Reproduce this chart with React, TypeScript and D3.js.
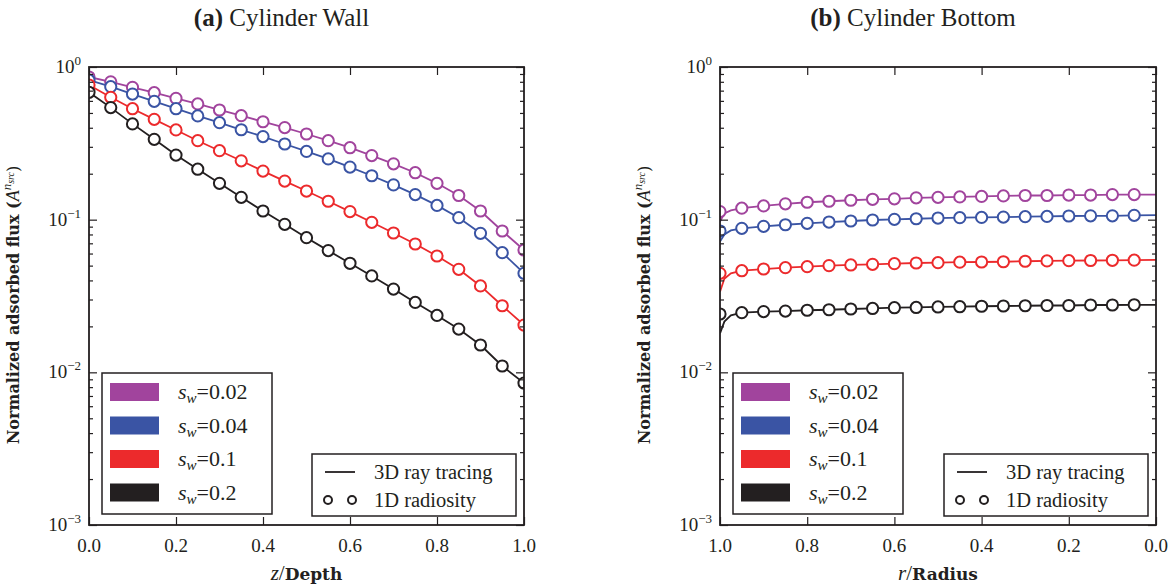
import React, { useEffect, useRef } from "react";
import * as d3 from "d3";

const WIDTH = 1173;
const HEIGHT = 588;

const swLabels = ["0.02", "0.04", "0.1", "0.2"];
const swColors = ["#a1449d", "#3a54a4", "#ec2a2c", "#231f20"];

const yExponents = [0, -1, -2, -3];
const wallTicks = [0, 0.2, 0.4, 0.6, 0.8, 1.0];
const bottomTicks = [1.0, 0.8, 0.6, 0.4, 0.2, 0.0];

// (a) cylinder wall, z/Depth -- lines and circles share the same points
const wallZ = [0, 0.05, 0.1, 0.15, 0.2, 0.25, 0.3, 0.35, 0.4, 0.45, 0.5, 0.55, 0.6, 0.65, 0.7, 0.75, 0.8, 0.85, 0.9, 0.95, 1.0];
const wallSw002 = [0.86, 0.8, 0.736, 0.679, 0.623, 0.573, 0.523, 0.48, 0.438, 0.401, 0.364, 0.329, 0.296, 0.263, 0.232, 0.203, 0.173, 0.144, 0.114, 0.0843, 0.0633];
const wallSw004 = [0.82, 0.743, 0.665, 0.596, 0.533, 0.478, 0.432, 0.388, 0.35, 0.313, 0.28, 0.25, 0.221, 0.194, 0.169, 0.146, 0.124, 0.103, 0.0814, 0.0608, 0.0445];
const wallSw01 = [0.762, 0.633, 0.533, 0.454, 0.387, 0.329, 0.283, 0.243, 0.208, 0.179, 0.154, 0.132, 0.113, 0.0961, 0.0818, 0.0693, 0.0578, 0.0473, 0.0368, 0.0273, 0.0204];
const wallSw02 = [0.683, 0.542, 0.424, 0.336, 0.265, 0.214, 0.173, 0.14, 0.114, 0.0932, 0.0762, 0.0627, 0.0518, 0.0428, 0.0351, 0.0287, 0.0236, 0.0192, 0.0151, 0.011, 0.0085];

// (b) cylinder bottom, r/Radius -- 1D radiosity circles
const bottomMarkR = [1.0, 0.95, 0.9, 0.85, 0.8, 0.75, 0.7, 0.65, 0.6, 0.55, 0.5, 0.45, 0.4, 0.35, 0.3, 0.25, 0.2, 0.15, 0.1, 0.05];
const bottomMarkSw002 = [0.113, 0.119, 0.123, 0.127, 0.13, 0.132, 0.134, 0.136, 0.137, 0.139, 0.14, 0.141, 0.142, 0.143, 0.144, 0.144, 0.145, 0.145, 0.146, 0.146];
const bottomMarkSw004 = [0.0843, 0.0878, 0.0904, 0.0926, 0.0946, 0.0965, 0.098, 0.0995, 0.1005, 0.1014, 0.1025, 0.103, 0.1035, 0.104, 0.1046, 0.105, 0.1057, 0.106, 0.106, 0.1067];
const bottomMarkSw01 = [0.0445, 0.0463, 0.0475, 0.0485, 0.0492, 0.05, 0.0505, 0.051, 0.0515, 0.052, 0.0523, 0.0527, 0.0528, 0.053, 0.0534, 0.0537, 0.0539, 0.054, 0.0542, 0.0543];
const bottomMarkSw02 = [0.0241, 0.0246, 0.025, 0.0252, 0.0255, 0.0257, 0.026, 0.0262, 0.0265, 0.0266, 0.0268, 0.0269, 0.0271, 0.0272, 0.0273, 0.0274, 0.0274, 0.0276, 0.0276, 0.0277];

// (b) 3D ray tracing lines (drop at the wall corner)
const bottomLineR = [1.0, 0.99, 0.975, 0.95, 0.9, 0.85, 0.8, 0.75, 0.7, 0.65, 0.6, 0.55, 0.5, 0.45, 0.4, 0.35, 0.3, 0.25, 0.2, 0.15, 0.1, 0.05, 0.0];
const bottomLineSw002 = [0.097, 0.11, 0.115, 0.119, 0.123, 0.127, 0.13, 0.132, 0.134, 0.136, 0.137, 0.139, 0.14, 0.141, 0.142, 0.143, 0.144, 0.144, 0.145, 0.145, 0.146, 0.146, 0.146];
const bottomLineSw004 = [0.0718, 0.08, 0.085, 0.0878, 0.0904, 0.0926, 0.0946, 0.0965, 0.098, 0.0995, 0.1005, 0.1014, 0.1025, 0.103, 0.1035, 0.104, 0.1046, 0.105, 0.1057, 0.106, 0.106, 0.1067, 0.107];
const bottomLineSw01 = [0.0337, 0.041, 0.0445, 0.0463, 0.0475, 0.0485, 0.0492, 0.05, 0.0505, 0.051, 0.0515, 0.052, 0.0523, 0.0527, 0.0528, 0.053, 0.0534, 0.0537, 0.0539, 0.054, 0.0542, 0.0543, 0.0545];
const bottomLineSw02 = [0.018, 0.0215, 0.0236, 0.0246, 0.025, 0.0252, 0.0255, 0.0257, 0.026, 0.0262, 0.0265, 0.0266, 0.0268, 0.0269, 0.0271, 0.0272, 0.0273, 0.0274, 0.0274, 0.0276, 0.0276, 0.0277, 0.0277];

const SERIF = "'Liberation Serif', 'Times New Roman', serif";
const BOLD_SERIF = "'DejaVu Serif', serif";
const INK = "#231f20";

function drawPanel(svg, cfg) {
  const top = 67;
  const bottom = 525;
  const { x0, x1 } = cfg;

  const x = d3.scaleLinear().domain(cfg.xDomain).range([x0, x1]);
  const y = d3.scaleLog().domain([1e-3, 1]).range([bottom, top]);

  const g = svg.append("g");

  // title: bold tag + plain text, centred over the whole subfigure (incl. y label)
  const title = g.append("text")
    .attr("x", (x0 + x1) / 2 - 25)
    .attr("y", 26)
    .attr("text-anchor", "middle")
    .attr("font-family", SERIF)
    .attr("font-size", 25)
    .attr("fill", INK);
  title.append("tspan").attr("font-weight", "bold").text(cfg.tag);
  title.append("tspan").text(" " + cfg.title);

  const clipId = "clip-" + cfg.key;
  svg.append("clipPath").attr("id", clipId)
    .append("rect")
    .attr("x", x0).attr("y", top)
    .attr("width", x1 - x0).attr("height", bottom - top);

  // data
  const plot = g.append("g").attr("clip-path", `url(#${clipId})`);
  const line = d3.line().x(d => x(d[0])).y(d => y(d[1]));

  cfg.lineYs.forEach((ys, i) => {
    plot.append("path")
      .attr("d", line(cfg.lineX.map((v, j) => [v, ys[j]])))
      .attr("fill", "none")
      .attr("stroke", swColors[i])
      .attr("stroke-width", 1.8);
  });
  cfg.markYs.forEach((ys, i) => {
    plot.selectAll(null)
      .data(cfg.markX.map((v, j) => [v, ys[j]]))
      .join("circle")
      .attr("cx", d => x(d[0]))
      .attr("cy", d => y(d[1]))
      .attr("r", 5.6)
      .attr("fill", "white")
      .attr("stroke", swColors[i])
      .attr("stroke-width", 2);
  });

  // ticks on all four sides, pointing inward
  const minor = [];
  for (let e = -3; e < 0; e++) for (let m = 2; m < 10; m++) minor.push(m * Math.pow(10, e));
  const major = yExponents.map(e => Math.pow(10, e));

  const tickStyle = sel => {
    sel.select(".domain").remove();
    sel.selectAll("line").attr("stroke", INK).attr("stroke-width", 1.2);
    sel.selectAll("text").remove();
  };

  g.append("g").attr("transform", `translate(${x0},0)`)
    .call(d3.axisLeft(y).tickValues(major).tickSize(-8)).call(tickStyle);
  g.append("g").attr("transform", `translate(${x0},0)`)
    .call(d3.axisLeft(y).tickValues(minor).tickSize(-4)).call(tickStyle);
  g.append("g").attr("transform", `translate(${x1},0)`)
    .call(d3.axisRight(y).tickValues(major).tickSize(-8)).call(tickStyle);
  g.append("g").attr("transform", `translate(${x1},0)`)
    .call(d3.axisRight(y).tickValues(minor).tickSize(-4)).call(tickStyle);
  g.append("g").attr("transform", `translate(0,${bottom})`)
    .call(d3.axisBottom(x).tickValues(cfg.xTicks).tickSize(-8)).call(tickStyle);
  g.append("g").attr("transform", `translate(0,${top})`)
    .call(d3.axisTop(x).tickValues(cfg.xTicks).tickSize(-8)).call(tickStyle);

  // frame
  g.append("rect")
    .attr("x", x0).attr("y", top)
    .attr("width", x1 - x0).attr("height", bottom - top)
    .attr("fill", "none").attr("stroke", INK).attr("stroke-width", 1.8);

  // x tick labels
  g.selectAll(null).data(cfg.xTicks).join("text")
    .attr("x", d => x(d))
    .attr("y", 552)
    .attr("text-anchor", "middle")
    .attr("font-family", SERIF)
    .attr("font-size", 19)
    .attr("fill", INK)
    .text(d => d3.format(".1f")(d));

  // y tick labels 10^e
  yExponents.forEach(e => {
    const t = g.append("text")
      .attr("x", x0 - 8)
      .attr("y", y(Math.pow(10, e)) + 6)
      .attr("text-anchor", "end")
      .attr("font-family", SERIF)
      .attr("font-size", 19)
      .attr("fill", INK);
    t.append("tspan").text("10");
    t.append("tspan").attr("dy", -8).attr("font-size", 13).text(e === 0 ? "0" : "\u2212" + Math.abs(e));
  });

  // x label
  const xl = g.append("text")
    .attr("x", (x0 + x1) / 2)
    .attr("y", 580)
    .attr("text-anchor", "middle")
    .attr("fill", INK);
  xl.append("tspan").attr("font-family", SERIF).attr("font-style", "italic").attr("font-size", 21).text(cfg.xVar);
  xl.append("tspan").attr("font-family", SERIF).attr("font-size", 21).text("/");
  xl.append("tspan").attr("font-family", BOLD_SERIF).attr("font-weight", "bold").attr("font-size", 17).text(cfg.xWord);

  // y label
  const yl = g.append("text")
    .attr("transform", `translate(${x0 - 70},305) rotate(-90)`)
    .attr("text-anchor", "middle")
    .attr("font-family", BOLD_SERIF)
    .attr("font-weight", "bold")
    .attr("font-size", 16)
    .attr("fill", INK);
  yl.append("tspan").text("Normalized adsorbed flux (");
  yl.append("tspan").attr("font-family", SERIF).attr("font-weight", "normal").attr("font-style", "italic").attr("font-size", 18).text("A");
  yl.append("tspan").attr("font-family", SERIF).attr("font-weight", "normal").attr("font-style", "italic").attr("font-size", 13).attr("dy", -8).text("n");
  yl.append("tspan").attr("font-family", SERIF).attr("font-weight", "normal").attr("font-style", "italic").attr("font-size", 10).attr("dy", 3).text("src");
  yl.append("tspan").attr("font-weight", "normal").attr("dy", 5).text(")");

  // legend: colours
  const l1x = x0 + 13;
  const l1y = 373;
  const l1 = g.append("g").attr("transform", `translate(${l1x},${l1y})`);
  l1.append("rect").attr("width", 170).attr("height", 141)
    .attr("fill", "white").attr("stroke", INK).attr("stroke-width", 1.5);
  swLabels.forEach((lab, i) => {
    const cy = 19 + i * 33.5;
    l1.append("rect").attr("x", 8).attr("y", cy - 9).attr("width", 49).attr("height", 18)
      .attr("fill", swColors[i]);
    const t = l1.append("text").attr("x", 76).attr("y", cy + 7)
      .attr("font-family", SERIF).attr("font-size", 22).attr("fill", INK);
    t.append("tspan").attr("font-style", "italic").text("s");
    t.append("tspan").attr("font-style", "italic").attr("font-size", 15).attr("dy", 4).text("w");
    t.append("tspan").attr("dy", -4).text("=" + lab);
  });

  // legend: line vs circles
  const l2w = 204;
  const l2 = g.append("g").attr("transform", `translate(${x1 - 8 - l2w},454)`);
  l2.append("rect").attr("width", l2w).attr("height", 62)
    .attr("fill", "white").attr("stroke", INK).attr("stroke-width", 1.5);
  l2.append("line").attr("x1", 13).attr("x2", 43).attr("y1", 18).attr("y2", 18)
    .attr("stroke", INK).attr("stroke-width", 1.8);
  [16, 40].forEach(cx => {
    l2.append("circle").attr("cx", cx).attr("cy", 46).attr("r", 4)
      .attr("fill", "white").attr("stroke", INK).attr("stroke-width", 2);
  });
  ["3D ray tracing", "1D radiosity"].forEach((lab, i) => {
    l2.append("text").attr("x", 62).attr("y", 25 + i * 28)
      .attr("font-family", SERIF).attr("font-size", 20.5).attr("fill", INK).text(lab);
  });
}

export default function App() {
  const svgRef = useRef(null);

  useEffect(() => {
    const svg = d3.select(svgRef.current);
    svg.selectAll("*").remove();

    drawPanel(svg, {
      key: "wall",
      x0: 89, x1: 524,
      tag: "(a)", title: "Cylinder Wall",
      xDomain: [0, 1], xTicks: wallTicks,
      xVar: "z", xWord: "Depth",
      lineX: wallZ,
      lineYs: [wallSw002, wallSw004, wallSw01, wallSw02],
      markX: wallZ,
      markYs: [wallSw002, wallSw004, wallSw01, wallSw02],
    });

    drawPanel(svg, {
      key: "bottom",
      x0: 720, x1: 1156,
      tag: "(b)", title: "Cylinder Bottom",
      xDomain: [1, 0], xTicks: bottomTicks,
      xVar: "r", xWord: "Radius",
      lineX: bottomLineR,
      lineYs: [bottomLineSw002, bottomLineSw004, bottomLineSw01, bottomLineSw02],
      markX: bottomMarkR,
      markYs: [bottomMarkSw002, bottomMarkSw004, bottomMarkSw01, bottomMarkSw02],
    });
  }, []);

  return (
    <svg ref={svgRef} width={WIDTH} height={HEIGHT}
      style={{ position: "absolute", left: 0, top: 0, background: "white" }} />
  );
}
